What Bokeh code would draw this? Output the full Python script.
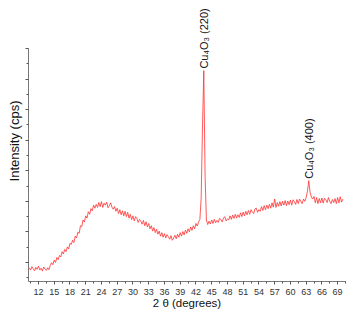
import numpy as np
from math import pi
from bokeh.plotting import figure
from bokeh.models import FixedTicker, Label, Range1d, CustomJSTickFormatter
from bokeh.embed import file_html
from bokeh.resources import INLINE

# scan grid (instrument step 0.25 deg)
two_theta_start = 10.25
two_theta_step = 0.25

intensity = [
    165, 150, 172, 158, 145, 168, 155, 176, 150, 162, 143, 170, 156, 148, 165, 152,   # 10.25-14.0
    180, 198, 185, 215, 200, 232, 218, 245,   # 14.25-16.0
    236, 270, 255, 285, 270, 302, 288, 325,   # 16.25-18.0
    318, 345, 330, 372, 360, 398, 390, 440,   # 18.25-20.0
    435, 478, 465, 505, 490, 532, 515, 552,   # 20.25-22.0
    538, 575, 555, 580, 560, 592, 565, 598,   # 22.25-24.0
    560, 588, 575, 595, 558, 570, 590, 562,   # 24.25-26.0
    548, 566, 535, 555, 520, 545, 512, 538,   # 26.25-28.0
    505, 535, 500, 528, 490, 515, 480, 505,   # 28.25-30.0
    472, 500, 488, 462, 482, 470, 450, 475,   # 30.25-32.0
    440, 466, 432, 455, 420, 440, 405, 428,   # 32.25-34.0
    395, 418, 385, 405, 372, 395, 365, 388,   # 34.25-36.0
    360, 382, 368, 352, 375, 345, 360, 378,   # 36.25-38.0
    355, 385, 365, 395, 372, 402, 380, 412,   # 38.25-40.0
    390, 420, 400, 432, 410, 440, 420, 455,   # 40.25-42.0
    438, 465, 480, 620, 1080, 1456, 760, 478, # 42.25-44.0
    448, 470, 452, 478, 455, 482, 460, 475,   # 44.25-46.0
    462, 488, 480, 465, 490, 500, 472, 485,   # 46.25-48.0
    478, 505, 482, 510, 488, 515, 490, 512,   # 48.25-50.0
    495, 525, 500, 530, 505, 535, 512, 540,   # 50.25-52.0
    515, 545, 530, 520, 550, 556, 528, 545,   # 52.25-54.0
    535, 565, 540, 572, 545, 575, 552, 580,   # 54.25-56.0
    555, 590, 562, 615, 560, 592, 568, 598,   # 56.25-58.0
    570, 600, 575, 605, 572, 602, 578, 608,   # 58.25-60.0
    575, 610, 598, 580, 612, 585, 615, 600,   # 60.25-62.0
    585, 615, 600, 625, 665, 735, 660, 628,   # 62.25-64.0
    615, 632, 590, 625, 585, 618, 590, 622,   # 64.25-66.0
    588, 620, 610, 592, 625, 600, 585, 612,   # 66.25-68.0
    592, 618, 585, 625, 590, 630, 595, 615,   # 68.25-70.0
]
two_theta = two_theta_start + two_theta_step * np.arange(len(intensity))

x_ticks = [12, 15, 18, 21, 24, 27, 30, 33, 36, 39, 42, 45, 48, 51, 54, 57, 60, 63, 66, 69]
x_minor = [10.5, 13.5, 16.5, 19.5, 22.5, 25.5, 28.5, 31.5, 34.5, 37.5, 40.5, 43.5,
           46.5, 49.5, 52.5, 55.5, 58.5, 61.5, 64.5, 67.5, 70.5]
y_ticks = [200, 400, 600, 800, 1000, 1200, 1400, 1600]
y_minor = [100, 300, 500, 700, 900, 1100, 1300, 1500]

peak_pos = [43.5, 63.5]
peak_val = [1456, 735]
peak_names = ["Cu\u2084O\u2083 (220)", "Cu\u2084O\u2083 (400)"]

FONT = "Liberation Sans"

p = figure(width=351, height=313, output_backend="svg", toolbar_location=None,
           x_range=Range1d(10.1, 70.5), y_range=Range1d(75, 1915),
           min_border_left=28, min_border_right=6, min_border_top=0, min_border_bottom=32)
p.outline_line_color = None
p.xgrid.visible = False
p.ygrid.visible = False
p.background_fill_color = "white"
p.border_fill_color = "white"

p.line(two_theta, intensity, line_color="#ff3030", line_width=0.8)

xa = p.xaxis[0]
xa.ticker = FixedTicker(ticks=x_ticks, minor_ticks=x_minor)
xa.axis_label = "2 \u03b8 (degrees)"
xa.axis_label_text_font = FONT
xa.axis_label_text_font_style = "normal"
xa.axis_label_text_font_size = "11.5px"
xa.axis_label_text_color = "#111111"
xa.axis_label_standoff = -1
xa.major_label_text_font = FONT
xa.major_label_text_font_size = "9px"
xa.major_label_text_color = "#333333"
xa.major_label_standoff = 4
xa.axis_line_color = "#777777"
xa.major_tick_line_color = "#555555"
xa.minor_tick_line_color = "#555555"
xa.major_tick_in = 0
xa.major_tick_out = 3
xa.minor_tick_in = 0
xa.minor_tick_out = 2

ya = p.yaxis[0]
ya.bounds = (75, 1600)
ya.ticker = FixedTicker(ticks=y_ticks, minor_ticks=y_minor)
ya.formatter = CustomJSTickFormatter(code="return ''")
ya.axis_label = "Intensity (cps)"
ya.axis_label_text_font = FONT
ya.axis_label_text_font_style = "normal"
ya.axis_label_text_font_size = "13px"
ya.axis_label_text_color = "#111111"
ya.axis_label_standoff = 4
ya.major_label_text_color = None
ya.major_label_standoff = 0
ya.axis_line_color = "#777777"
ya.major_tick_line_color = "#555555"
ya.minor_tick_line_color = "#555555"
ya.major_tick_in = 0
ya.major_tick_out = 3
ya.minor_tick_in = 0
ya.minor_tick_out = 2

for xp, yp, name in zip(peak_pos, peak_val, peak_names):
    p.add_layout(Label(x=xp, y=yp, text=name, angle=pi / 2, text_align="left",
                       text_baseline="middle", x_offset=0, y_offset=2,
                       text_font=FONT, text_font_size="11px", text_color="#111111"))

open("out.html", "w").write(file_html(p, INLINE))
